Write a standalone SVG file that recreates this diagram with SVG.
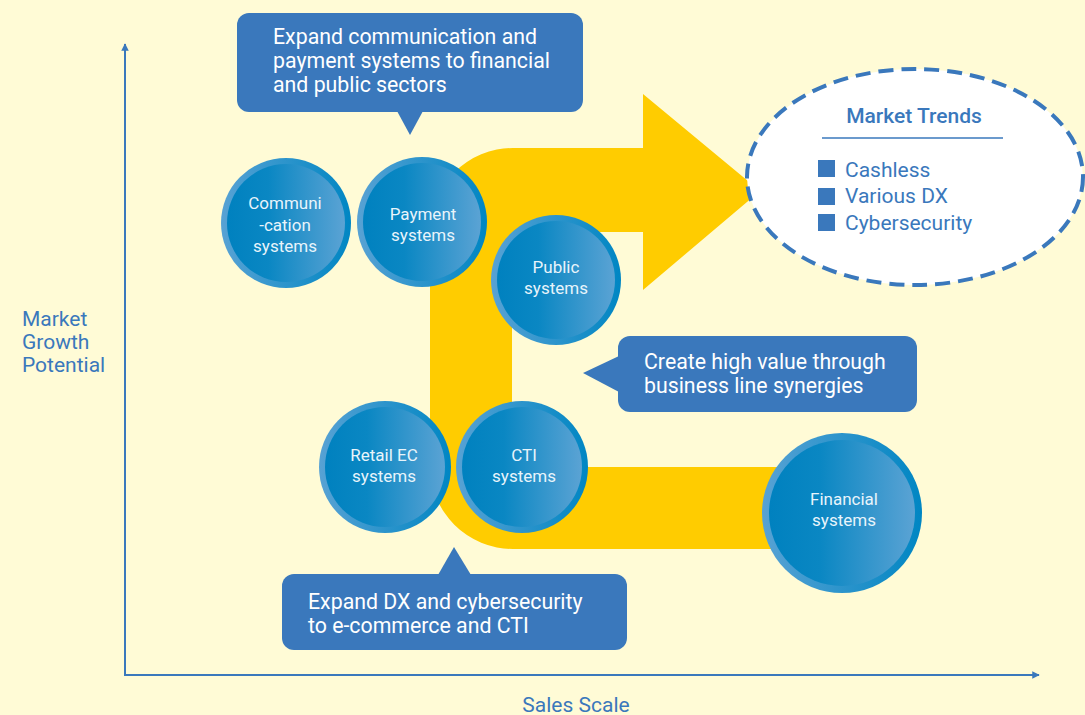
<svg xmlns="http://www.w3.org/2000/svg" width="1085" height="715" viewBox="0 0 1085 715">
  <defs>
    <linearGradient id="ringGrad" x1="0" y1="0" x2="1" y2="0">
      <stop offset="0" stop-color="#58a2d4"/>
      <stop offset="1" stop-color="#0086c3"/>
    </linearGradient>
    <linearGradient id="coreGrad" x1="0" y1="0" x2="1" y2="0">
      <stop offset="0" stop-color="#0081bf"/>
      <stop offset="0.35" stop-color="#0a87c3"/>
      <stop offset="1" stop-color="#5ba3d4"/>
    </linearGradient>
    <marker id="axisHead" viewBox="0 0 10 10" refX="9" refY="5" markerWidth="7.5" markerHeight="7.5" orient="auto" markerUnits="userSpaceOnUse">
      <path d="M0,0 L10,5 L0,10 Z" fill="#3a78bc"/>
    </marker>
    <style>
      .axis { stroke: #3a78bc; stroke-width: 2; fill: none; }
      .axisLabel { font-family: Roboto, "Liberation Sans", sans-serif; font-size: 21px; fill: #3a78bc; }
      .ring { fill: url(#ringGrad); }
      .core { fill: url(#coreGrad); }
      .nodeText { font-family: Roboto, "Liberation Sans", sans-serif; font-size: 17px; fill: #e8f4fb; text-anchor: middle; }
      .callout { fill: #3a78bc; }
      .calloutText { font-family: Roboto, "Liberation Sans", sans-serif; font-size: 21.3px; fill: #ffffff; }
      .trendTitle { font-family: Roboto, "Liberation Sans", sans-serif; font-size: 21px; font-weight: 500; fill: #3a78bc; text-anchor: middle; }
      .trendItem { font-family: Roboto, "Liberation Sans", sans-serif; font-size: 21px; fill: #3a78bc; }
    </style>
  </defs>

  <rect width="1085" height="715" fill="#fffbd6"/>

  <!-- axes -->
  <g id="axes">
    <line class="axis" x1="125" y1="676" x2="125" y2="44" marker-end="url(#axisHead)"/>
    <line class="axis" x1="124" y1="675" x2="1039" y2="675" marker-end="url(#axisHead)"/>
    <text class="axisLabel" x="22" y="326" font-size="20.5">Market</text>
    <text class="axisLabel" x="22" y="349" font-size="20.5">Growth</text>
    <text class="axisLabel" x="22" y="372" font-size="20.5">Potential</text>
    <text class="axisLabel" x="576" y="712" text-anchor="middle">Sales Scale</text>
  </g>

  <!-- growth path: yellow band bending up and ending in an arrow -->
  <g id="connectors">
    <path id="growth-arrow" fill="#ffcc00" d="M643,148 L513,148 A83,83 0 0 0 430,231 L430,466 A83,83 0 0 0 513,549 L800,549 L800,467 L512,467 L512,232 L643,232 L643,290 L760,191 L643,94 Z"/>
  </g>

  <!-- market trends bubble -->
  <g id="market-trends">
    <ellipse cx="915" cy="177" rx="168" ry="108" fill="#ffffff" stroke="#3a78bc" stroke-width="4" stroke-dasharray="15 8"/>
    <text class="trendTitle" x="914" y="123">Market Trends</text>
    <line x1="822" y1="138" x2="1003" y2="138" stroke="#3a78bc" stroke-width="1.5"/>
    <rect x="818" y="160" width="17" height="17" fill="#3a78bc"/>
    <text class="trendItem" x="845" y="177">Cashless</text>
    <rect x="818" y="188" width="17" height="17" fill="#3a78bc"/>
    <text class="trendItem" x="845" y="203">Various DX</text>
    <rect x="818" y="214" width="17" height="17" fill="#3a78bc"/>
    <text class="trendItem" x="845" y="230">Cybersecurity</text>
  </g>

  <!-- system nodes -->
  <g id="communication-systems">
    <circle class="ring" cx="286" cy="223" r="65"/>
    <circle class="core" cx="286" cy="223" r="59"/>
    <text class="nodeText" x="285" y="209">Communi</text>
    <text class="nodeText" x="285" y="231">-cation</text>
    <text class="nodeText" x="285" y="252">systems</text>
  </g>
  <g id="payment-systems">
    <circle class="ring" cx="422" cy="222" r="65"/>
    <circle class="core" cx="422" cy="222" r="59"/>
    <text class="nodeText" x="423" y="220">Payment</text>
    <text class="nodeText" x="423" y="241">systems</text>
  </g>
  <g id="public-systems">
    <circle class="ring" cx="556" cy="280" r="65"/>
    <circle class="core" cx="556" cy="280" r="59"/>
    <text class="nodeText" x="556" y="273">Public</text>
    <text class="nodeText" x="556" y="294">systems</text>
  </g>
  <g id="retail-ec-systems">
    <circle class="ring" cx="385" cy="467" r="66"/>
    <circle class="core" cx="385" cy="467" r="60"/>
    <text class="nodeText" x="384" y="461">Retail EC</text>
    <text class="nodeText" x="384" y="482">systems</text>
  </g>
  <g id="cti-systems">
    <circle class="ring" cx="522" cy="467" r="66"/>
    <circle class="core" cx="522" cy="467" r="60"/>
    <text class="nodeText" x="524" y="461">CTI</text>
    <text class="nodeText" x="524" y="482">systems</text>
  </g>
  <g id="financial-systems">
    <circle class="ring" cx="842" cy="513" r="80"/>
    <circle class="core" cx="842" cy="513" r="73"/>
    <text class="nodeText" x="844" y="505">Financial</text>
    <text class="nodeText" x="844" y="526">systems</text>
  </g>

  <!-- callouts -->
  <g id="callout-expand-financial-public">
    <rect class="callout" x="237" y="13" width="346" height="99" rx="12"/>
    <path class="callout" d="M397,111 L423,111 L410,135 Z"/>
    <text class="calloutText" x="273" y="44">Expand communication and</text>
    <text class="calloutText" x="273" y="68">payment systems to financial</text>
    <text class="calloutText" x="273" y="92">and public sectors</text>
  </g>
  <g id="callout-synergies">
    <rect class="callout" x="618" y="336" width="299" height="76" rx="12"/>
    <path class="callout" d="M619,356 L583,373 L619,392 Z"/>
    <text class="calloutText" x="644" y="369">Create high value through</text>
    <text class="calloutText" x="644" y="393">business line synergies</text>
  </g>
  <g id="callout-dx-cybersecurity">
    <rect class="callout" x="282" y="574" width="345" height="76" rx="12"/>
    <path class="callout" d="M438,575 L471,575 L454,547 Z"/>
    <text class="calloutText" x="308" y="609">Expand DX and cybersecurity</text>
    <text class="calloutText" x="308" y="633">to e-commerce and CTI</text>
  </g>
</svg>
